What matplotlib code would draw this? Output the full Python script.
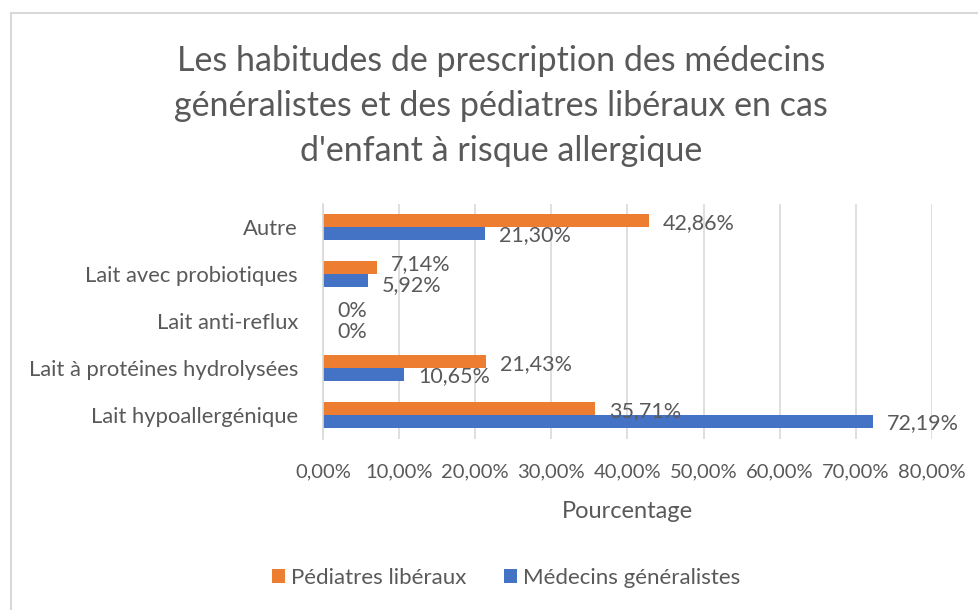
import matplotlib
matplotlib.use("Agg")
import matplotlib.pyplot as plt
from matplotlib.lines import Line2D
import numpy as np

categories = ["Lait hypoallergénique", "Lait à protéines hydrolysées",
              "Lait anti-reflux", "Lait avec probiotiques", "Autre"]
pediatres = [35.71, 21.43, 0.0, 7.14, 42.86]
medecins = [72.19, 10.65, 0.0, 5.92, 21.30]
series_names = ["Pédiatres libéraux", "Médecins généralistes"]
xticks = [0, 10, 20, 30, 40, 50, 60, 70, 80]

title = ("Les habitudes de prescription des médecins\n"
         "généralistes et des pédiatres libéraux en cas\n"
         "d'enfant à risque allergique")

plt.rcParams['font.family'] = ['Lato', 'DejaVu Sans']
TXT = "#595959"
ORANGE = "#ED7D31"
BLUE = "#4472C4"
GRID = "#D9D9D9"

fig = plt.figure(figsize=(9.79, 6.10), dpi=100)
ax = fig.add_axes([323/979, 1-438.5/610, (932-323)/979, 235/610])

y = np.arange(len(categories))
h = 0.266
b1 = ax.barh(y + h/2, pediatres, height=h, color=ORANGE, label=series_names[0])
b2 = ax.barh(y - h/2, medecins, height=h, color=BLUE, label=series_names[1])

def fmt(v):
    if v == 0:
        return "0%"
    return f"{v:.2f}".replace(".", ",") + "%"

# data labels (spread apart vertically when the two labels of a category would collide)
for i in range(len(categories)):
    close = abs(pediatres[i] - medecins[i]) < 5
    dy_o = 2.5 if close else -1.5
    dy_b = -3.5 if close else -1.5
    ax.annotate(fmt(pediatres[i]), xy=(pediatres[i], y[i] + h/2), xytext=(10, dy_o),
                textcoords="offset points", ha="left", va="center", fontsize=15.5, color=TXT)
    ax.annotate(fmt(medecins[i]), xy=(medecins[i], y[i] - h/2), xytext=(10, dy_b),
                textcoords="offset points", ha="left", va="center", fontsize=15.5, color=TXT)

ax.set_xlim(0, 80)
ax.set_ylim(-0.5, 4.5)
ax.set_xticks(xticks)
ax.set_xticklabels([f"{t:.2f}".replace(".", ",") + "%" for t in xticks])
ax.set_yticks(y)
ax.set_yticklabels(categories)
ax.tick_params(axis="both", length=0, labelcolor=TXT)
ax.tick_params(axis="y", pad=18, labelsize=15.8)
ax.tick_params(axis="x", pad=18, labelsize=14.5)
ax.grid(axis="x", color=GRID, linewidth=1.2)
ax.set_axisbelow(True)
for s in ("top", "right", "bottom"):
    ax.spines[s].set_visible(False)
ax.spines["left"].set_color(GRID)
ax.spines["left"].set_linewidth(1.2)
ax.set_xlabel("Pourcentage", fontsize=17, color=TXT, labelpad=15)

fig.text(501/979, 1-106/610, title, ha="center", va="center", fontsize=24.5,
         color=TXT, linespacing=1.5)

leg = fig.legend(handles=[b1, b2], loc="center", bbox_to_anchor=(506/979, 1-578/610),
                 ncol=2, frameon=False, fontsize=16, handlelength=0.6, handleheight=0.6,
                 columnspacing=1.7, handletextpad=0.25)
for t in leg.get_texts():
    t.set_color(TXT)

fig.add_artist(Line2D([11/979, 1], [1-13/610, 1-13/610], color=GRID, linewidth=1.5,
                      transform=fig.transFigure))
fig.add_artist(Line2D([11/979, 11/979], [0, 1-13/610], color=GRID, linewidth=1.5,
                      transform=fig.transFigure))

fig.savefig("out.png", dpi=100, facecolor="white")
